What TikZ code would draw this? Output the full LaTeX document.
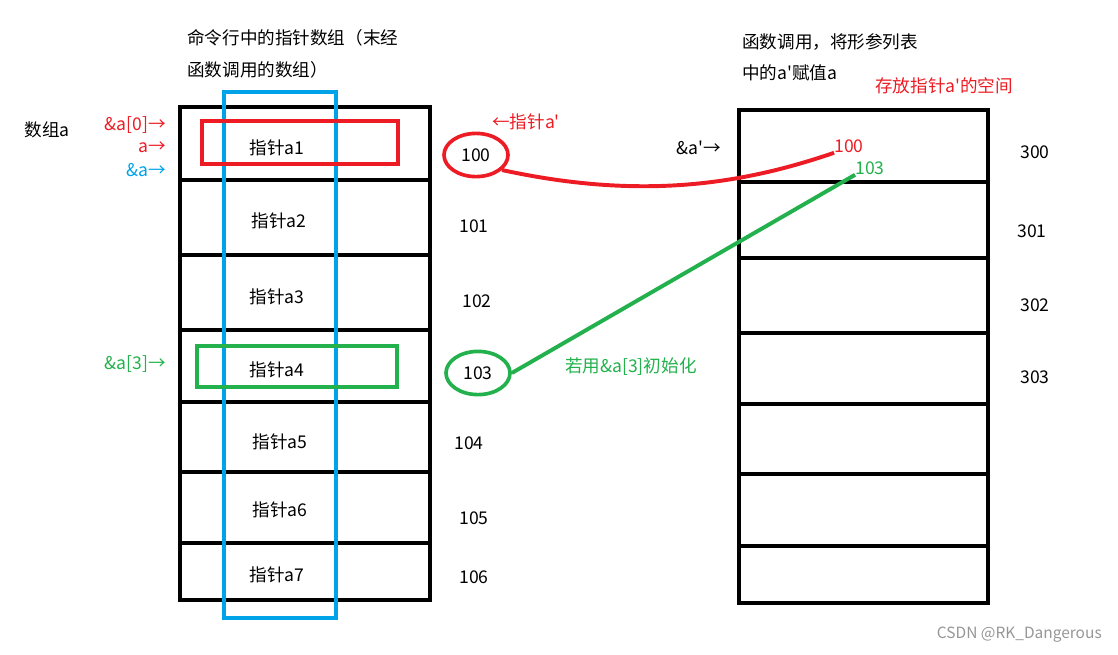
\documentclass[tikz,border=0pt]{standalone}
\usepackage{fontspec}
\setmainfont{Noto Sans CJK SC}
\usetikzlibrary{shapes.geometric}
\definecolor{pred}{RGB}{237,28,36}
\definecolor{pgreen}{RGB}{34,177,76}
\definecolor{pblue}{RGB}{0,162,232}
\definecolor{wmark}{RGB}{150,150,150}
\newcommand{\ap}{\textquotesingle}
\tikzset{
  arr/.style={line width=2.8pt,line cap=rect},
  hbox/.style={line width=2.8pt},
  lab/.style={font=\fontsize{12.5}{14}\selectfont,inner sep=0pt},
  addr/.style={lab,font=\fontsize{12.5}{14}\selectfont},
  ring/.style={ellipse,line width=2.6pt,minimum width=1.6cm,minimum height=1.08cm,inner sep=0pt,font=\fontsize{12.5}{14}\selectfont},
  link/.style={line width=2.8pt}
}
\begin{document}
\begin{tikzpicture}[x=0.025cm,y=-0.025cm]
  \useasboundingbox (0,0) rectangle (1118,654);
  % left array
  \draw[arr] (180,107) rectangle (430,600);
  \foreach \yy in {180,255,330,402,472,543} \draw[arr] (180,\yy) -- (430,\yy);
  \draw[hbox,pblue] (224,92) rectangle (336,618);
  \draw[hbox,pred] (202,121) rectangle (398,164);
  \draw[hbox,pgreen] (197,346) rectangle (397,387);
  \node[lab] (c1) at (277,148) {指针a1}; \node[lab] (c2) at (279,221) {指针a2};
  \node[lab] (c3) at (277,297) {指针a3}; \node[lab] (c4) at (277,370) {指针a4};
  \node[lab] (c5) at (280,442) {指针a5}; \node[lab] (c6) at (280,510) {指针a6};
  \node[lab] (c7) at (277,575) {指针a7};
  % right array
  \draw[arr] (739,110) rectangle (988,603);
  \foreach \yy in {182,258,333,404,474,546} \draw[arr] (739,\yy) -- (988,\yy);
  % addresses
  \node[ring,draw=pred] (e100) at (476,155) {100};
  \node[addr] (a101) at (474,226) {101}; \node[addr] (a102) at (477,301) {102};
  \node[ring,draw=pgreen] (e103) at (478,373) {103};
  \node[addr] (a104) at (469,443) {104}; \node[addr] (a105) at (474,518) {105};
  \node[addr] (a106) at (474,577) {106};
  \node[addr] (b300) at (1035,152) {300}; \node[addr] (b301) at (1032,231) {301};
  \node[addr] (b302) at (1035,305) {302}; \node[addr] (b303) at (1035,377) {303};
  % labels
  \node[lab,anchor=west] (t1) at (187,38) {命令行中的指针数组（末经};
  \node[lab,anchor=west] (t2) at (187,70) {函数调用的数组）};
  \node[lab,anchor=west] (t3) at (742,42) {函数调用，将形参列表};
  \node[lab,anchor=west] (t4) at (742,73) {中的a\ap 赋值a};
  \node[lab,anchor=west,text=pred] (t5) at (875,86) {存放指针a\ap 的空间};
  \node[lab] (arrA) at (47,130) {数组a};
  \node[lab,anchor=east,text=pred] (p0) at (166,125) {\&a[0]→};
  \node[lab,anchor=east,text=pred] (p1) at (166,147) {a→};
  \node[lab,anchor=east,text=pblue] (p2) at (166,170) {\&a→};
  \node[lab,anchor=east,text=pgreen] (p3) at (166,364) {\&a[3]→};
  \node[lab,anchor=west,text=pred] (pa) at (492,122) {←指针a\ap};
  \node[lab,anchor=east] (pb) at (721,148) {\&a\ap→};
  \node[addr,text=pred] (t100) at (849,146) {100};
  \node[addr,text=pgreen] (t103) at (870,168) {103};
  \node[lab,anchor=west,text=pgreen] (init) at (565,367) {若用\&a[3]初始化};
  \draw[link,pred] (e100.-30) .. controls (640,200) and (740,185) .. (t100.south west);
  \draw[link,pgreen] (e103.east) -- (t103.south west);
  \node[lab,anchor=east,text=wmark,font=\fontsize{11}{13}\selectfont] (wm) at (1102,635) {CSDN @RK\_Dangerous};
\end{tikzpicture}
\end{document}
